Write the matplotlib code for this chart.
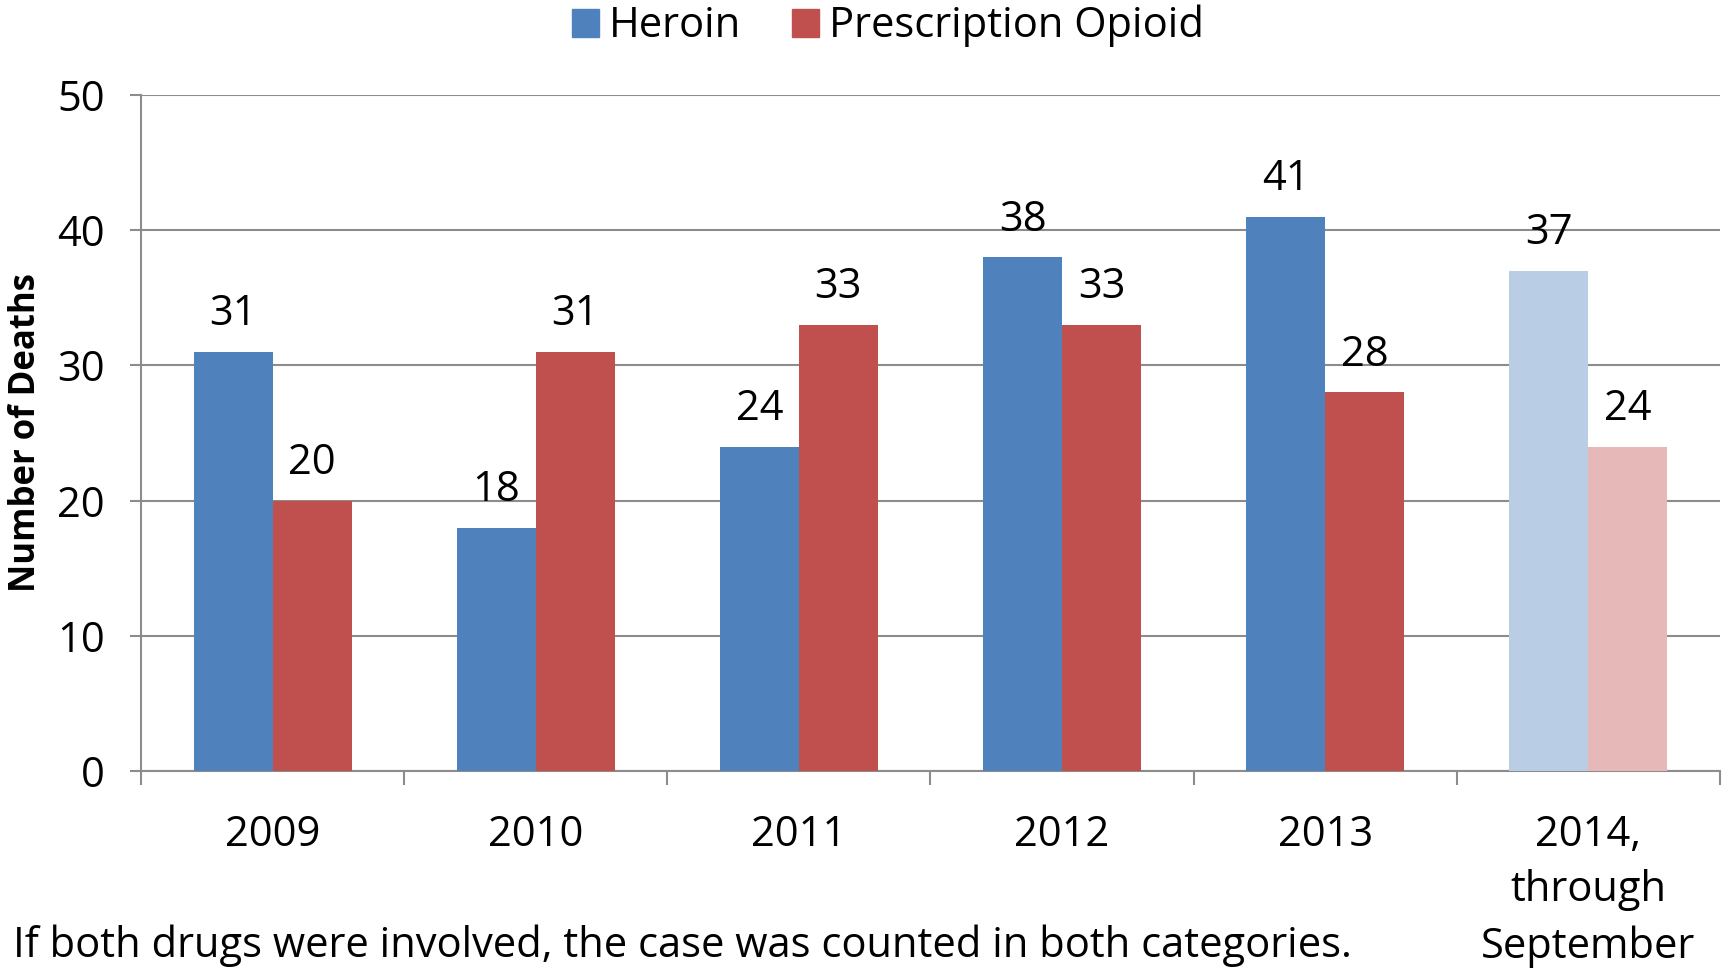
import numpy as np
import matplotlib
matplotlib.use("Agg")
import matplotlib.pyplot as plt
from matplotlib.patches import Patch

plt.rcParams['font.family'] = ['Open Sans', 'DejaVu Sans']

years = ["2009", "2010", "2011", "2012", "2013", "2014,\nthrough\nSeptember"]
heroin = [31, 18, 24, 38, 41, 37]
opioid = [20, 31, 33, 33, 28, 24]

blue, red = "#4F81BD", "#C0504D"
blue_lt, red_lt = "#B9CDE5", "#E6B9B8"
grid_c = "#8C8C8C"

fig = plt.figure(figsize=(17.29, 9.73), dpi=100)
ax = fig.add_axes([141 / 1729, 1 - 771 / 973, (1720 - 141) / 1729, (771 - 95) / 973])

x = np.arange(len(years))
w = 0.3
h_cols = [blue] * 5 + [blue_lt]
o_cols = [red] * 5 + [red_lt]
bh = ax.bar(x - w / 2, heroin, w, color=h_cols, zorder=3)
bo = ax.bar(x + w / 2, opioid, w, color=o_cols, zorder=3)

for bars, vals in ((bh, heroin), (bo, opioid)):
    for b, v in zip(bars, vals):
        ax.annotate(str(v), (b.get_x() + b.get_width() / 2, v),
                    xytext=(0, 27), textcoords="offset points",
                    ha="center", va="center", fontsize=30)

ax.set_xlim(-0.5, 5.5)
ax.set_ylim(0, 50)
ax.set_yticks(range(0, 51, 10))
ax.yaxis.grid(True, color=grid_c, linewidth=1.5, zorder=0)
ax.set_axisbelow(True)

ax.set_xticks(x)
ax.set_xticklabels(years, fontsize=30, linespacing=1.42)
ax.set_xticks(np.arange(-0.5, 6, 1), minor=True)
ax.tick_params(axis="x", which="major", length=0, pad=31)
ax.tick_params(axis="x", which="minor", length=10, width=1.5, color=grid_c)
ax.tick_params(axis="y", length=8, width=1.5, color=grid_c, labelsize=30, pad=18)

for s in ("top", "right"):
    ax.spines[s].set_visible(False)
for s in ("left", "bottom"):
    ax.spines[s].set_color(grid_c)
    ax.spines[s].set_linewidth(1.5)

fig.text(26 / 1729, 1 - 433 / 973, "Number of Deaths", rotation=90,
         ha="center", va="center", fontsize=25, fontweight="bold")

handles = [Patch(color=blue, label="Heroin"), Patch(color=red, label="Prescription Opioid")]
fig.legend(handles=handles, loc="center", bbox_to_anchor=(888 / 1729, 1 - 26 / 973),
           ncol=2, frameon=False, fontsize=30, handlelength=0.65, handleheight=0.65,
           handletextpad=0.25, columnspacing=1.2, borderpad=0)

fig.text(13 / 1729, 1 - 946 / 973,
         "If both drugs were involved, the case was counted in both categories.",
         ha="left", va="center", fontsize=30)

fig.savefig("out.png", dpi=100)
